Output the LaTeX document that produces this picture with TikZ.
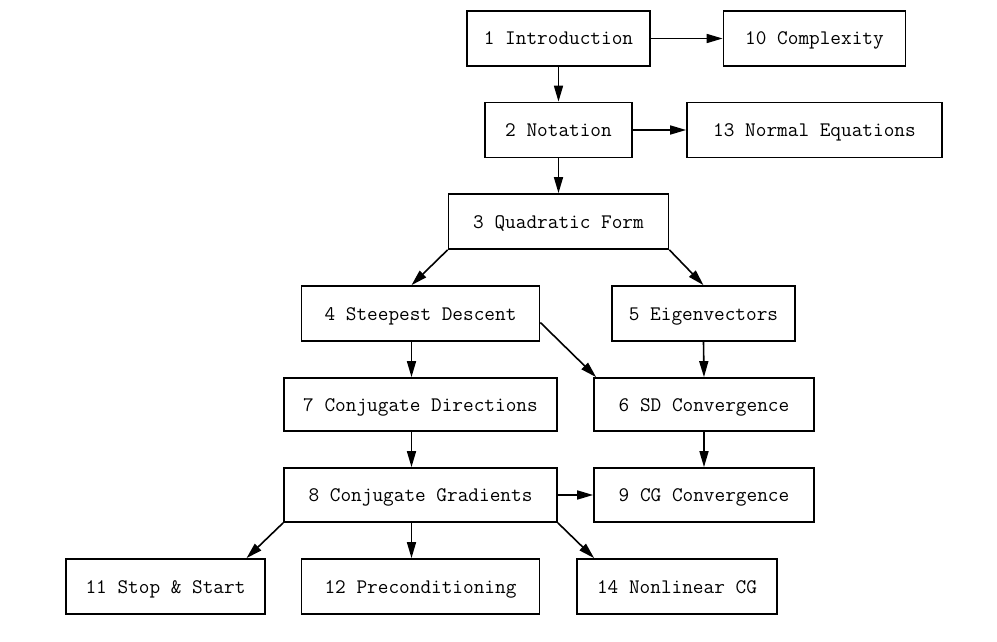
\documentclass[tikz,border=0pt]{standalone}
\usepackage{fontspec}
\usetikzlibrary{arrows.meta,calc}
\begin{document}
\begin{tikzpicture}[x=1pt,y=-1pt,
  box/.style={draw,line width=1.7pt,rectangle,inner sep=0pt,
    text height=15pt,text depth=2pt,
    font=\ttfamily\fontsize{20.7}{22}\selectfont,text=black},
  arr/.style={line width=1.6pt,-{Triangle[length=16pt,width=9pt]}}]
\useasboundingbox (0,0) rectangle (997,642);
\node[box,minimum width=183pt,minimum height=55pt] (n1) at (558.5,38.5) {1 Introduction};
\node[box,minimum width=182pt,minimum height=55pt] (n10) at (814.5,38.5) {10 Complexity};
\node[box,minimum width=147pt,minimum height=55pt] (n2) at (558.5,130) {2 Notation};
\node[box,minimum width=255pt,minimum height=55pt] (n13) at (814.5,130) {13 Normal Equations};
\node[box,minimum width=220pt,minimum height=55pt] (n3) at (558.5,221.5) {3 Quadratic Form};
\node[box,minimum width=238pt,minimum height=55pt] (n4) at (420.5,313.5) {4 Steepest Descent};
\node[box,minimum width=183pt,minimum height=55pt] (n5) at (703.5,313.5) {5 Eigenvectors};
\node[box,minimum width=273pt,minimum height=53pt] (n7) at (420.5,404.5) {7 Conjugate Directions};
\node[box,minimum width=220pt,minimum height=53pt] (n6) at (704,404.5) {6 SD Convergence};
\node[box,minimum width=273pt,minimum height=54pt] (n8) at (420.5,495) {8 Conjugate Gradients};
\node[box,minimum width=220pt,minimum height=54pt] (n9) at (704,495) {9 CG Convergence};
\node[box,minimum width=199pt,minimum height=55pt] (n11) at (165.5,586.5) {11 Stop \& Start};
\node[box,minimum width=238pt,minimum height=55pt] (n12) at (420.5,586.5) {12 Preconditioning};
\node[box,minimum width=200pt,minimum height=55pt] (n14) at (677,586.5) {14 Nonlinear CG};
\draw[arr] (n1.east) -- (n10.west);
\draw[arr] (n1.south) -- (n2.north);
\draw[arr] (n2.east) -- (n13.west);
\draw[arr] (n2.south) -- (n3.north);
\draw[arr] (n3.south west) -- ($(n4.north)+(-9,0)$);
\draw[arr] (n3.south east) -- ($(n5.north)+(0,0)$);
\draw[arr] ($(n4.south)+(-9,0)$) -- ($(n7.north)+(-9,0)$);
\draw[arr] ($(n4.east)+(0,9)$) -- ($(n6.north west)+(3,0)$);
\draw[arr] (n5.south) -- (n6.north);
\draw[arr] ($(n7.south)+(-9,0)$) -- ($(n8.north)+(-9,0)$);
\draw[arr] (n6.south) -- (n9.north);
\draw[arr] (n8.east) -- (n9.west);
\draw[arr] (n8.south west) -- ($(n11.north)+(81,0)$);
\draw[arr] ($(n8.south)+(-9,0)$) -- ($(n12.north)+(-9,0)$);
\draw[arr] (n8.south east) -- ($(n14.north west)+(18,0)$);
\end{tikzpicture}
\end{document}
